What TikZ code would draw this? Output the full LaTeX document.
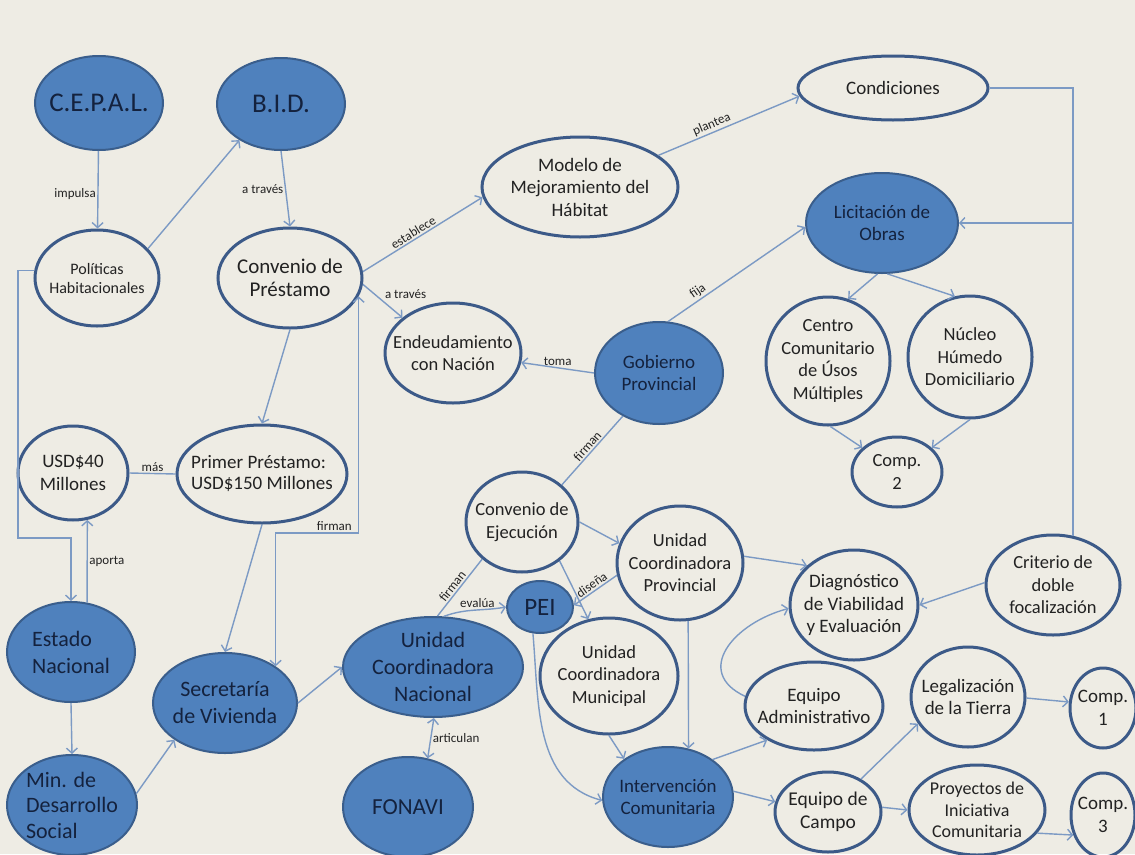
\documentclass[tikz,border=0pt]{standalone}
\usepackage{fontspec}
\setmainfont{Carlito}
\usetikzlibrary{shapes.geometric,arrows.meta,calc}
\definecolor{bg}{RGB}{238,236,228}
\definecolor{fillb}{RGB}{79,129,189}
\definecolor{bordf}{RGB}{58,94,140}
\definecolor{bordw}{RGB}{60,90,136}
\definecolor{edgec}{RGB}{124,154,196}
\definecolor{txtw}{RGB}{34,34,34}
\definecolor{txtf}{RGB}{20,34,62}
\tikzset{
  el/.style={ellipse, draw=bordw, line width=3pt, inner sep=-30pt, text=txtw, align=center},
  fl/.style={ellipse, draw=bordf, line width=2pt, fill=fillb, inner sep=-30pt, text=txtf, align=center},
  sz/.style 2 args={minimum width=#1pt, minimum height=#2pt},
  fs/.style={font=\fontsize{#1}{#1*1.18}\selectfont},
  ar/.style={draw=edgec, line width=1.4pt, -{Straight Barb[length=5pt,width=11pt]}},
  arb/.style={draw=edgec, line width=1.4pt, {Straight Barb[length=5pt,width=11pt]}-{Straight Barb[length=5pt,width=11pt]}},
  ln/.style={draw=edgec, line width=1.4pt},
  lab/.style={font=\fontsize{13}{15}\selectfont, text=txtw, inner sep=1.5pt}
}
\begin{document}
\begin{tikzpicture}[x=1pt,y=-1pt]
\path[fill=bg, use as bounding box] (0,0) rectangle (1135,854);
\clip (0,0) rectangle (1135,854);

% nodes
\node[fl, sz={128}{94}, font=\fontsize{27}{32}\selectfont] (cepal) at (99,103) {C.E.P.A.L.};
\node[fl, sz={128}{92}, font=\fontsize{27}{32}\selectfont] (bid) at (281,104) {B.I.D.};
\node[el, sz={124}{96}, font=\fontsize{16}{19}\selectfont] (pol) at (97,278) {Políticas\\Habitacionales};
\node[el, sz={144}{100}, font=\fontsize{21}{23.5}\selectfont] (cp) at (290,278) {Convenio de\\Préstamo};
\node[el, sz={196}{100}, font=\fontsize{19}{22.5}\selectfont] (modelo) at (580,187) {Modelo de\\Mejoramiento del\\Hábitat};
\node[el, sz={190}{64}, font=\fontsize{19}{22.5}\selectfont] (cond) at (893,88) {Condiciones};
\node[fl, sz={152}{100}, font=\fontsize{19}{22.5}\selectfont] (lic) at (882,223) {Licitación de\\Obras};
\node[el, sz={124}{128}, font=\fontsize{18.5}{22.5}\selectfont] (centro) at (828,361) {Centro\\Comunitario\\de Úsos\\Múltiples};
\node[el, sz={124}{122}, font=\fontsize{18.5}{22.5}\selectfont] (nucleo) at (970,357) {Núcleo\\Húmedo\\Domiciliario};
\node[el, sz={90}{70}, font=\fontsize{18.5}{22.5}\selectfont] (comp2) at (897,472) {Comp.\\2};
\node[el, sz={136}{100}, font=\fontsize{18.5}{22.5}\selectfont] (endeud) at (453,353) {Endeudamiento\\con Nación};
\node[fl, sz={128}{102}, font=\fontsize{19}{22}\selectfont] (gob) at (659,373) {Gobierno\\Provincial};
\node[el, sz={112}{100}, font=\fontsize{18.5}{22.5}\selectfont] (ce) at (522,522) {Convenio de\\Ejecución};
\node[el, sz={126}{114}, font=\fontsize{18.5}{22.5}\selectfont] (ucp) at (680,563) {Unidad\\Coordinadora\\Provincial};
\node[fl, sz={66}{52}, font=\fontsize{25}{28}\selectfont] (pei) at (540,607) {PEI};
\node[el, sz={138}{116}, font=\fontsize{18.5}{22.5}\selectfont] (ucm) at (609,676) {Unidad\\Coordinadora\\Municipal};
\node[fl, sz={180}{100}, font=\fontsize{22}{27}\selectfont] (ucn) at (433,667) {Unidad\\Coordinadora\\Nacional};
\node[fl, sz={130}{100}, font=\fontsize{23}{27}\selectfont] (fonavi) at (408,807) {FONAVI};
\node[fl, sz={130}{100}, font=\fontsize{19}{21.5}\selectfont] (interv) at (668,797) {Intervención\\Comunitaria};
\node[el, sz={128}{110}, font=\fontsize{19}{22.5}\selectfont] (diag) at (854,605) {Diagnóstico\\de Viabilidad\\y Evaluación};
\node[el, sz={134}{100}, font=\fontsize{18.5}{22.5}\selectfont] (crit) at (1053,585) {Criterio de\\doble\\focalización};
\node[el, sz={138}{88}, font=\fontsize{19}{22.5}\selectfont] (ea) at (814,706) {Equipo\\Administrativo};
\node[el, sz={114}{100}, font=\fontsize{19}{22.5}\selectfont] (leg) at (968,697) {Legalización\\de la Tierra};
\node[el, sz={66}{80}, font=\fontsize{19}{22.5}\selectfont] (comp1) at (1103,708) {Comp.\\1};
\node[el, sz={106}{80}, font=\fontsize{19.5}{22.5}\selectfont] (ec) at (828,812) {Equipo de\\Campo};
\node[el, sz={136}{90}, font=\fontsize{18}{21.5}\selectfont] (proj) at (977,810) {Proyectos de\\Iniciativa\\Comunitaria};
\node[el, sz={64}{84}, font=\fontsize{19}{22.5}\selectfont] (comp3) at (1103,815) {Comp.\\3};
\node[el, sz={110}{94}, font=\fontsize{19}{22.5}\selectfont] (usd) at (73,473) {USD\$40\\Millones};
\node[el, sz={170}{98}, font=\fontsize{19}{21}\selectfont, align=left] (pp) at (262,474) {Primer Préstamo:\\USD\$150 Millones};
\node[fl, sz={128}{100}, font=\fontsize{22}{27}\selectfont, align=left] (estado) at (71,652) {Estado\\Nacional};
\node[fl, sz={130}{100}, font=\fontsize{22}{25.5}\selectfont, align=left] (min) at (72,805) {Min. de\\Desarrollo\\Social};
\node[fl, sz={144}{100}, font=\fontsize{22}{27}\selectfont] (sec) at (225,703) {Secretaría\\de Vivienda};

% connectors
\draw[ar] (cepal) -- node[lab,left,pos=0.55]{impulsa} (pol);
\draw[ar] (pol.30) -- (bid.221);
\draw[ar] (bid.south) -- node[lab,left,pos=0.5]{a través} (cp.north);
\draw[ar] (cp.5) -- node[lab,sloped,above,pos=0.45]{establece} (modelo.186);
\draw[ar] (cp.-5) -- node[lab,right,pos=0.3,xshift=8pt]{a través} (endeud.145);
\draw[ar] (modelo.22) -- node[lab,sloped,above,pos=0.4]{plantea} (cond.185);
\coordinate (j1) at (crit.68 |- lic.east);
\draw[ln] (cond.east) -| (crit.68);
\draw[ar] (j1) -- (lic.east);
\draw[ar] (lic.-95) -- (centro.72);
\draw[ar] (lic.-84) -- (nucleo.104);
\draw[ar] (centro.-88) -- (comp2.145);
\draw[ar] (nucleo.-90) -- (comp2.35);
\draw[ar] (gob.80) -- node[lab,sloped,above,pos=0.25]{fija} (lic.183);
\draw[ar] (gob.west) -- node[lab,above,pos=0.5]{toma} (endeud.-8);
\draw[ln] (ce.43) -- node[lab,sloped,above,pos=0.5]{firman} (gob.230);
\coordinate (fk) at (310,533);
\draw[arb] (cp.-15) |- node[lab,above,pos=0.75]{firman} (fk) -| (sec.36);
\draw[ar] (cp.south) -- (pp.north);
\draw[ln] (usd.east) -- node[lab,above]{más} (pp.west);
\draw[ar] (pp.south) -- (sec.north);
\coordinate (j3) at (18,538);
\draw[ar] (pol.173) -| (j3) -| (estado.north);
\draw[ar] (estado.72) -- node[lab,right,pos=0.5]{aporta} (usd.-73);
\draw[ar] (estado.south) -- (min.north);
\draw[ar] (min.10) -- (sec.216);
\draw[ar] (sec.east) -- (ucn.west);
\draw[arb] (ucn.-89) -- node[lab,right,pos=0.5]{articulan} (fonavi.68);
\draw[ln] (ucn.85) -- node[lab,sloped,above,pos=0.45]{firman} (ce.223);
\draw[ar] (ucn.78) to[out=20,in=190] node[lab,above,pos=0.55]{evalúa} (pei.west);
\draw[ar] (ce.east) -- (ucp.162);
\draw[ar] (ce.-46) -- (ucm.110);
\draw[ar] (ucp.191) -- node[lab,sloped,above,pos=0.5]{diseña} (pei.3);
\draw[ar] (pei.-105) to[out=-85,in=165] (interv.183);
\draw[ar] (ucm.south) -- (interv.139);
\draw[ar] (ucp.-82) -- (interv.67);
\draw[ar] (ucp.6) -- (diag.140);
\draw[ar] (crit.178) -- (diag.east);
\draw[ar] (ea.172) to[out=155,in=195,looseness=1.5] (diag.183);
\draw[ar] (interv.40) -- (ea.216);
\draw[ar] (interv.5) -- (ec.169);
\draw[ar] (ec.45) -- (leg.208);
\draw[ar] (leg.-1) -- (comp1.170);
\draw[ar] (ec.5) -- (proj.west);
\draw[ar] (proj.-21) -- (comp3.214);
\end{tikzpicture}
\end{document}
